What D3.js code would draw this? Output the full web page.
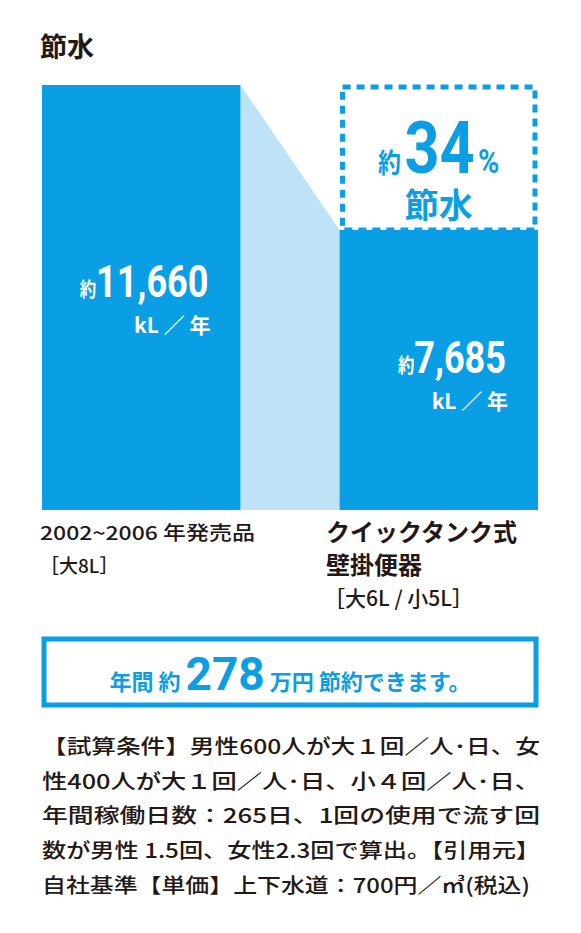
<!DOCTYPE html>
<html><head><meta charset="utf-8">
<script src="https://cdn.jsdelivr.net/npm/d3@7"></script>
<style>body{margin:0;background:#fff}text{font-family:"Noto Sans CJK JP","Noto Sans",sans-serif}</style>
</head><body>
<svg id="c" width="581" height="933"></svg>
<script>
const categories = ["2002~2006年発売品", "クイックタンク式壁掛便器"];
const values = [11660, 7685];
const valueLabels = ["11,660", "7,685"];
const saving = "34";
const yearlyYen = "278";
const noteLines = [
 "【試算条件】男性600人が大１回／人･日、女",
 "性400人が大１回／人･日、小４回／人･日、",
 "年間稼働日数：265日、1回の使用で流す回",
 "数が男性 1.5回、女性2.3回で算出。【引用元】",
 "自社基準【単価】上下水道：700円／㎥(税込)"
];
const blue="#0a9ee4", light="#bfe3f6", dark="#231815";
const svg=d3.select("#c");
const x=d3.scaleBand().domain(categories).range([42,538]).paddingInner(0.333);
const y=d3.scaleLinear().domain([0,11660]).range([510,85]);
svg.append("text").attr("x",40).attr("y",57).attr("font-size",27).attr("font-weight",700).attr("fill",dark).text("節水");
const x0=x(categories[0])+x.bandwidth(), x1=x(categories[1]);
svg.append("path").attr("fill",light).attr("d",`M${x0},${y(values[0])}L${x1},${y(values[1])}L${x1},510L${x0},510Z`);
svg.selectAll("rect.bar").data(values).join("rect").attr("class","bar")
 .attr("x",(d,i)=>x(categories[i])).attr("width",x.bandwidth())
 .attr("y",d=>y(d)).attr("height",d=>510-y(d)).attr("fill",blue);
svg.append("rect").attr("x",x1+3).attr("y",y(values[0])+2).attr("width",x.bandwidth()-6).attr("height",y(values[1])-y(values[0])-2)
 .attr("fill","none").attr("stroke",blue).attr("stroke-width",5).attr("stroke-dasharray","8,6");
function valueLabel(i, ny){
  const right=x(categories[i])+x.bandwidth()-32;
  const g=svg.append("g");
  const t=g.append("text").attr("fill","#fff").attr("font-weight",700).attr("text-anchor","end")
   .attr("transform",`translate(${right},${ny}) scale(0.82,1)`);
  t.append("tspan").attr("font-size",20).text("約");
  t.append("tspan").attr("font-size",44).attr("font-family","Roboto,Liberation Sans,sans-serif").text(valueLabels[i]);
  g.append("text").attr("x",right+2).attr("y",ny+36).attr("text-anchor","end").attr("fill","#fff").attr("font-weight",700).attr("font-size",21).text("kL ／ 年");
}
valueLabel(0,297); valueLabel(1,373);
const cx=x1+x.bandwidth()/2;
const s=svg.append("text").attr("fill",blue).attr("font-weight",700).attr("text-anchor","middle").attr("transform",`translate(${cx},173) scale(0.85,1)`);
s.append("tspan").attr("font-size",27).text("約");
s.append("tspan").attr("font-size",72).attr("font-family","Roboto,Liberation Sans,sans-serif").attr("dx",4).text(saving);
s.append("tspan").attr("font-size",34).attr("font-family","Roboto,Liberation Sans,sans-serif").attr("dx",4).text("%");
svg.append("text").attr("x",cx).attr("y",218).attr("text-anchor","middle").attr("fill",blue).attr("font-weight",700).attr("font-size",34).text("節水");
const l0=svg.append("text").attr("fill",dark).attr("font-size",19).attr("font-weight",500);
l0.append("tspan").attr("x",40).attr("y",540).attr("textLength",215).attr("lengthAdjust","spacingAndGlyphs").text("2002~2006 年発売品");
l0.append("tspan").attr("x",40).attr("y",573).text("［大8L］");
const l1=svg.append("text").attr("fill",dark).attr("font-size",24).attr("font-weight",700);
l1.append("tspan").attr("x",326).attr("y",541).text("クイックタンク式");
l1.append("tspan").attr("x",326).attr("y",574).text("壁掛便器");
svg.append("text").attr("x",324).attr("y",606).attr("fill",dark).attr("font-size",21).attr("font-weight",500).text("［大6L / 小5L］");
svg.append("rect").attr("x",44).attr("y",639).attr("width",492).attr("height",66).attr("fill","none").attr("stroke",blue).attr("stroke-width",5);
const b=svg.append("text").attr("x",290).attr("y",690).attr("text-anchor","middle").attr("fill",blue).attr("font-weight",700);
b.append("tspan").attr("font-size",22).text("年間 約 ");
b.append("tspan").attr("font-size",46).attr("font-family","Roboto,Liberation Sans,sans-serif").text(yearlyYen);
b.append("tspan").attr("font-size",22).text(" 万円 節約できます。");
svg.selectAll("text.note").data(noteLines).join("text").attr("class","note")
 .attr("x",42).attr("y",(d,i)=>754+i*34.7).attr("fill",dark).attr("font-size",20).attr("font-weight",500)
 .attr("textLength",(d,i)=>i<4?498:488).attr("lengthAdjust","spacingAndGlyphs").text(d=>d);
</script></body></html>
